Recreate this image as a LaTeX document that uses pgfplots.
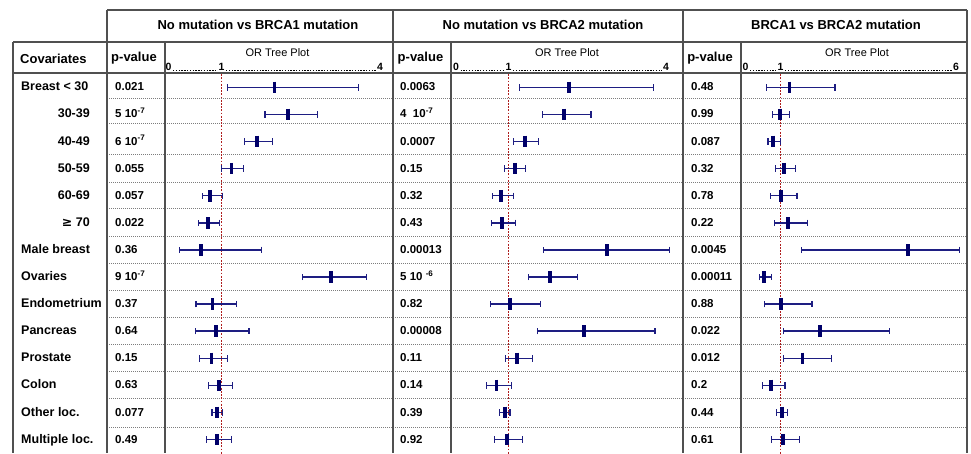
\documentclass[border=0pt]{standalone}
\usepackage{pgfplots}
\pgfplotsset{compat=1.18}
\usepackage{pgfplotstable}
\usepackage{fontspec}
\setmainfont{Liberation Sans}
\newfontfamily\sym{DejaVu Sans}

\definecolor{navybar}{RGB}{30,30,130}
\definecolor{navybox}{RGB}{0,0,105}
\definecolor{refred}{RGB}{175,30,30}
\definecolor{rulec}{RGB}{80,80,80}
\definecolor{sepc}{RGB}{125,125,125}

% row 0 = Breast < 30 ... row 13 = Multiple loc. ; OR with 95% CI
\pgfplotstableread{
row or   lo   hi
0   2.00 1.11 3.59
1   2.25 1.82 2.81
2   1.67 1.43 1.96
3   1.19 1.00 1.42
4   0.79 0.64 1.02
5   0.74 0.57 0.96
6   0.61 0.21 1.75
7   3.07 2.53 3.74
8   0.83 0.52 1.29
9   0.89 0.51 1.52
10  0.81 0.58 1.11
11  0.95 0.75 1.21
12  0.92 0.82 1.02
13  0.92 0.71 1.19
}\brcaone

\pgfplotstableread{
row or   lo   hi
0   2.16 1.21 3.76
1   2.05 1.65 2.57
2   1.31 1.10 1.57
3   1.12 0.92 1.33
4   0.86 0.69 1.10
5   0.88 0.67 1.13
6   2.88 1.66 4.06
7   1.79 1.38 2.31
8   1.03 0.65 1.61
9   2.44 1.55 3.79
10  1.16 0.94 1.45
11  0.77 0.58 1.06
12  0.94 0.83 1.03
13  0.97 0.74 1.26
}\brcatwo

\pgfplotstableread{
row or   lo   hi
0   1.25 0.60 2.54
1   0.97 0.76 1.25
2   0.79 0.64 0.99
3   1.09 0.85 1.41
4   1.00 0.70 1.46
5   1.20 0.82 1.75
6   4.61 1.59 6.09
7   0.53 0.39 0.73
8   1.00 0.53 1.89
9   2.12 1.08 4.08
10  1.62 1.08 2.45
11  0.72 0.48 1.12
12  1.03 0.88 1.20
13  1.07 0.73 1.53
}\onevstwo

\pgfplotsset{forest/.style={
  scale only axis, height=380pt, hide axis,
  y dir=reverse, ymin=-0.528, ymax=13.494,
  anchor=north west}}

\newcommand\forestrows[1]{%
  \addplot[color=refred, line width=1.1pt, dash pattern=on 1.8pt off 1.4pt]
    coordinates {(1,-0.6) (1,13.6)};
  \addplot[navybox, only marks, mark=|, mark size=5.8pt,
    mark options={line width=3.8pt},
    error bars/.cd, x dir=both, x explicit,
    error bar style={draw=navybar, line width=1.5pt},
    error mark=|,
    error mark options={draw=navybar, line width=1.2pt, mark size=3.2pt}]
    table[x=or, y=row,
      x error plus expr=\thisrow{hi}-\thisrow{or},
      x error minus expr=\thisrow{or}-\thisrow{lo}] {#1};
}

\tikzset{
  cell/.style={inner sep=0pt, text height=.716em, text depth=0pt},
  lab/.style={cell, font=\bfseries\fontsize{12.5}{14}\selectfont},
  pv/.style={cell, anchor=west, font=\bfseries\fontsize{11.5}{13}\selectfont},
  tk/.style={cell, font=\bfseries\fontsize{10.5}{12}\selectfont},
}

\begin{document}
\begin{tikzpicture}[x=1pt,y=1pt]
\useasboundingbox (0,0) rectangle (971,-453);

% table rules
\foreach \y in {98,123,154,182,208,236,263,290,317,344,371,398,427}
  \draw[sepc, line width=0.7pt, dash pattern=on 1pt off 1pt] (107,-\y) -- (967,-\y);
\draw[rulec, line width=1.6pt] (107,-10) -- (967,-10);
\draw[rulec, line width=1.6pt] (13,-42) -- (967,-42);
\draw[rulec, line width=1.3pt] (13,-73) -- (967,-73);
\foreach \x in {13,165,451,741}
  \draw[rulec, line width=1.2pt] (\x,-42) -- (\x,-453);
\foreach \x in {107,393,683,967}
  \draw[rulec, line width=1.2pt] (\x,-10) -- (\x,-453);

% forest plots
\begin{axis}[forest, at={(165pt,-73pt)}, width=228pt, xmin=-0.066, xmax=4.236]
\forestrows{\brcaone}
\end{axis}
\begin{axis}[forest, at={(451pt,-73pt)}, width=232pt, xmin=-0.095, xmax=4.324]
\forestrows{\brcatwo}
\end{axis}
\begin{axis}[forest, at={(741pt,-73pt)}, width=226pt, xmin=-0.128, xmax=6.293]
\forestrows{\onevstwo}
\end{axis}

% headers
\node[cell, font=\bfseries\fontsize{13}{15}\selectfont] at (258,-26) {No mutation vs BRCA1 mutation};
\node[cell, font=\bfseries\fontsize{13}{15}\selectfont] at (543,-26) {No mutation vs BRCA2 mutation};
\node[cell, font=\bfseries\fontsize{13}{15}\selectfont] at (836,-26) {BRCA1 vs BRCA2 mutation};
\node[cell, anchor=west, font=\bfseries\fontsize{13}{15}\selectfont] at (20,-60) {Covariates};
\foreach \x in {134,420.5,710}
  \node[cell, font=\bfseries\fontsize{13}{15}\selectfont] at (\x,-58) {p-value};
\foreach \x in {277.5,567,857}
  \node[cell, font=\fontsize{11}{13}\selectfont] at (\x,-53.3) {OR Tree Plot};

% OR scales in the header
\foreach \a/\b/\c/\m in {168.5/221.5/380/4, 456/508.5/666/4, 745.5/780.5/956/6}{
  \node[tk] at (\a,-66.5) {0};
  \node[tk] at (\b,-66.5) {1};
  \node[tk] at (\c,-66.5) {\m};
  \draw[black, line width=0.9pt, dash pattern=on 1.3pt off 1.5pt] (\a+4.5,-70) -- (\b-4.5,-70);
  \draw[black, line width=0.9pt, dash pattern=on 1.3pt off 1.5pt] (\b+4.5,-70) -- (\c-4.5,-70);
}

% covariates
\foreach \t [count=\i from 0] in {Breast < 30,,,,,,Male breast,Ovaries,Endometrium,Pancreas,Prostate,Colon,Other loc.,Multiple loc.}
  \node[lab, anchor=west] at (21,-87.3-27.1*\i) {\t};
\foreach \t [count=\i from 1] in {30-39,40-49,50-59,60-69,{{\sym ≥} 70}}
  \node[lab, anchor=east] at (90,-87.3-27.1*\i) {\t};

% p-values
\foreach \t [count=\i from 0] in {0.021,{5 10\textsuperscript{-7}},{6 10\textsuperscript{-7}},0.055,0.057,0.022,0.36,{9 10\textsuperscript{-7}},0.37,0.64,0.15,0.63,0.077,0.49}
  \node[pv] at (115,-87.3-27.1*\i) {\t};
\foreach \t [count=\i from 0] in {0.0063,{4\ \ 10\textsuperscript{-7}},0.0007,0.15,0.32,0.43,0.00013,{5 10 \textsuperscript{-6}},0.82,0.00008,0.11,0.14,0.39,0.92}
  \node[pv] at (400,-87.3-27.1*\i) {\t};
\foreach \t [count=\i from 0] in {0.48,0.99,0.087,0.32,0.78,0.22,0.0045,0.00011,0.88,0.022,0.012,0.2,0.44,0.61}
  \node[pv] at (691,-87.3-27.1*\i) {\t};
\end{tikzpicture}
\end{document}
